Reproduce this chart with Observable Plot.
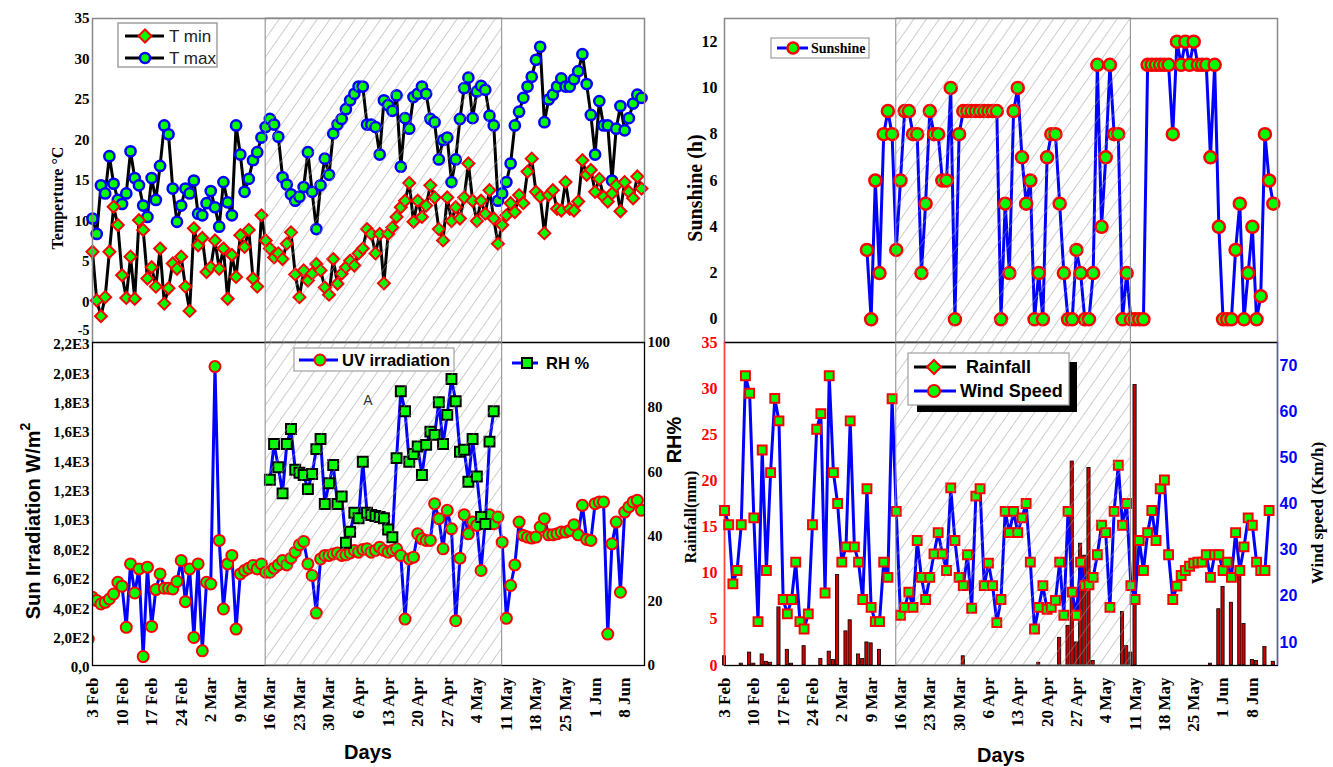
<!DOCTYPE html>
<html><head><meta charset="utf-8">
<script src="https://cdn.jsdelivr.net/npm/d3@7"></script>
<script src="https://cdn.jsdelivr.net/npm/@observablehq/plot@0.6"></script>
<style>
body{margin:0;background:#fff;}
#root{position:relative;width:1333px;height:767px;overflow:hidden;background:#fff;}
#root > svg{position:absolute;overflow:visible;}
</style></head><body><div id="root"></div>
<script>
// ---------- data ----------
const dayTicks = [0,7,14,21,28,35,42,49,56,63,70,77,84,91,98,105,112,119,126];
const dayLabels = ["3 Feb","10 Feb","17 Feb","24 Feb","2 Mar","9 Mar","16 Mar","23 Mar","30 Mar","6 Apr","13 Apr","20 Apr","27 Apr","4 May","11 May","18 May","25 May","1 Jun","8 Jun"];
const hatchPeriod = [[41, 97]]; // 16 Mar - 11 May (days after 3 Feb)

const tMax = [10.3,8.4,14.4,13.4,18,14.6,12.6,12.1,13.4,18.6,
 15.3,14.4,11.9,10.5,15.3,12.6,16.8,21.8,20.7,14,
 9.9,11.9,14,13.4,15,10.9,10.7,12.2,13.7,11.7,
 9.3,14.8,12.3,10.7,21.8,18.2,13.6,15.2,17.5,18.5,
 20.3,21.6,22.6,21.9,20.4,15.4,14.5,13.3,12.5,13,
 14.2,18.5,13.6,9.0,14.4,17.7,15.7,20.8,21.9,22.6,
 23.8,24.9,25.7,26.6,26.6,21.9,21.9,21.6,18.2,24.9,
 24.3,23.6,25.5,16.7,22.7,21.4,25.3,25.7,26.6,25.7,
 22.6,22.2,17.6,20,20.3,14.8,17.6,22.6,26.4,27.7,
 22.7,26,26.7,26.2,23,21.8,12.5,13.4,14.8,17.1,
 21.8,23.5,25.2,26.6,27.8,29.9,31.5,22.2,25,25.6,
 26.6,27.6,26.6,26.6,27.5,28.5,30.6,26.9,23.1,18.2,
 24.8,21.8,21.8,15,21.4,24.2,21.2,22.7,24.5,25.6,
 25.2];
const tMin = [6.2,0.2,-1.75,0.6,6.2,11.75,9.5,3.3,0.5,5.6,
 0.4,10.1,8.9,2.9,4.3,1.9,6.6,-0.2,1.7,4.75,
 4.1,5.6,1.9,-1.1,9.1,7,7.9,3.7,4.3,7.6,
 4.1,6.6,0.4,5.8,3.1,8.25,6.8,8.9,2.9,1.9,
 10.7,7.6,6.6,5.5,6,5.3,7.2,8.6,3.4,0.6,
 3.9,2.65,3.5,4.7,3.9,1.8,0.9,5.3,2.25,3.5,
 4.3,5.1,4.5,6,6.6,9,8.4,6,8.4,2.3,
 8.4,9.2,10.5,11.7,12.5,14.7,9.9,12.5,10.5,11.9,
 14.4,12.9,9,7.6,12.9,10,11.7,10.3,12.9,17.1,
 12.5,10,12.5,10.9,13.8,10.3,7.2,9.5,10.7,12.2,
 11.1,13.2,12.2,16.1,17.7,13.6,13,8.5,13.2,13.8,
 11.5,11.3,14.8,11.5,11.3,12.4,17.5,15.7,16.3,13.6,
 15.2,13,12.4,13.4,14.4,11.2,14.8,13.6,12.8,15.5,
 14];

const sunshineStartDay = 34;
const sunshine = [3,0,6,2,8,9,8,3,6,9, 9,8,8,2,5,9,8,8,6,6, 10,0,8,9,9,9,9,9,9,9,
 9,9,0,5,2,9,10,7,5,6, 0,2,0,7,8,8,5,2,0,0, 3,2,0,0,2,11,4,7,11,8,
 8,0,2,0,0,0,0,11,11,11, 11,11,11,8,12,11,12,11,12,11, 11,11,7,11,4,0,0,0,3,5,
 0,2,4,0,1,8,6,5];

const uvStartDay = -1;
const uv = [180,465,442,419,430,453,487,567,540,260,
 692,494,658,61,670,266,517,624,526,526,
 521,572,715,435,658,191,692,100,567,555,
 2036,852,385,692,750,248,624,647,663,681,
 658,692,635,635,663,685,715,685,731,772,
 822,845,692,613,357,726,750,750,760,767,
 750,754,767,784,772,790,795,772,784,806,
 784,772,784,795,750,316,726,738,897,863,
 852,852,1102,1000,795,1057,931,305,731,1027,
 897,977,954,647,989,1027,965,1011,840,321,
 545,685,977,886,875,868,875,943,1000,890,
 890,897,909,909,920,959,890,1091,859,852,
 1102,1114,1114,214,829,977,499,1045,1080,1114,
 1125,1057];

const rhStartDay = 42;
const rh = [57.5,68.6,61.4,53.3,68.6,73.2,60.6,59.7,59,54.6,
 59.3,67,70.1,50,56.4,62.1,50,52.3,38,41.4,
 47.3,45.6,63.1,47.3,46.6,46.3,46,45.6,42.1,39.7,
 64.2,84.9,78.7,63.1,65.5,67.8,59,68.3,72.4,71.4,
 81.5,68.6,77.6,88.7,81.8,66.2,66.8,56.9,70.1,58.5,
 46,43.8,69.3,78.7];

const wind = [38.6,35.5,22.7,25.6,35.5,67.8,64,37,14.5,51.7,
 25.6,46.8,62.9,58,19.3,16.2,19.3,27.4,14.5,12.9,
 16.2,35.5,56.2,59.6,20.7,67.8,46.8,40.1,27.4,30.7,
 58,30.7,27.4,19.3,43.3,17.6,14.5,14.5,27.4,24.1,
 62.8,38.4,15.9,17.6,20.9,17.6,32.1,24.1,19.3,24.1,
 29.2,33.8,29.2,25.6,43.5,32.1,24.1,22.3,29,17.4,
 41.7,43.3,22.3,27.2,22.3,14.3,19.3,38.4,33.8,
 38.4,33.8,37,40.1,27.4,12.9,17.6,22.3,17.2,17.6,
 19.1,27.4,15.9,38.4,20.9,15.9,27.4,22.3,22.5,24.1,
 29,35.4,33.8,17.6,38.4,48.4,35.4,40.1,22.3,19.3,
 32.1,25.6,33.8,38.6,32.1,43.3,45.2,29,19.3,22.2,
 24.5,25.6,26.5,27.2,27.4,27.4,29,24.1,29,29,
 25.6,27.4,24.1,33.8,25.6,30.7,37,35.4,27.4,25.6,
 25.6,38.6];

const rainfall = [1.0,0,0,0,0.2,0,1.4,0.2,0,1.2,
 0.4,0.3,0,6.3,0,1.7,0.2,0,0,2.1,
 0,0,0,0.7,0,1.5,0.6,9.8,0,3.7,
 4.9,0,1.2,0.7,2.5,2.4,0,1.7,0,0,
 0,0,0,0,0,0,0,0,0,0,
 0,0,0,0,0,0,0,1.0,0,0,
 0,0,0,0,0,0,0,0,0,0,
 0,0,0,0,0,0.3,0,0,0,0,
 3.0,0,4.3,22.1,2.5,13.2,11.9,21.4,0.5,0,
 0,0,0,0,0,5.8,2.1,1.4,30.4,0,
 0,0,0,0,0,0,0,0,0,0,
 0,0,0,0,0,0,0.2,0,6.1,8.5,
 0,6.8,0,10.1,4.5,0,0.6,0.5,0,2.0,
 0,0.4];

const tempTicks = [0,5,10,15,20,25,30,35];
const tempBottomTick = [-5];
const sunTicks = [0,2,4,6,8,10,12];
const uvTicks = [0,200,400,600,800,1000,1200,1400,1600,1800,2000,2200];
const uvTickLabels = ["0,0","2,0E2","4,0E2","6,0E2","8,0E2","1,0E3","1,2E3","1,4E3","1,6E3","1,8E3","2,0E3","2,2E3"];
const rhTicks = [0,20,40,60,80,100];
const rainTicks = [0,5,10,15,20,25,30,35];
const windTicks = [10,20,30,40,50,60,70];

// ---------- helpers ----------
const rows = (values, start) => values.map((v, i) => ({day: start + i, v}));
const tMaxData = rows(tMax, 0), tMinData = rows(tMin, 0);
const sunData = rows(sunshine, sunshineStartDay);
const uvData = rows(uv, uvStartDay);
const rhData = rows(rh, rhStartDay);
const windData = rows(wind, 0);
const rainData = rows(rainfall, 0).filter(d => d.v > 0);

const GREEN = "#00ff00", RED = "#ff0000", BLUE = "#0000ff";
const SERIF = "Liberation Serif", SANS = "Liberation Sans";
const baseStyle = {background: "none", fontFamily: SERIF, color: "black", overflow: "visible"};
const root = document.getElementById("root");

function place(svg, left, top, hatchId) {
  svg.style.left = left + "px";
  svg.style.top = top + "px";
  if (hatchId) {
    const ns = "http://www.w3.org/2000/svg";
    const defs = document.createElementNS(ns, "defs");
    defs.innerHTML = `<pattern id="${hatchId}" patternUnits="userSpaceOnUse" width="10.4" height="10.4" patternTransform="rotate(35)"><line x1="0" y1="-1" x2="0" y2="11.4" stroke="#9c9c9c" stroke-width="1.1" stroke-opacity="0.9"/></pattern>`;
    svg.insertBefore(defs, svg.firstChild);
  }
  root.appendChild(svg);
}
const hatchMark = (id) => Plot.rect(hatchPeriod, {x1: d => d[0], x2: d => d[1], fill: `url(#${id})`, stroke: "#8a8a8a", strokeWidth: 1});
const yAxis = (ticks, opts) => Plot.axisY({ticks, tickSize: 0, label: null, fontWeight: "bold", fontSize: 15, ...opts});
const xAxis = () => Plot.axisX({ticks: dayTicks, tickFormat: d => dayLabels[dayTicks.indexOf(d)], tickRotate: -90, tickSize: 0, tickPadding: 12, fontSize: 17, fontWeight: "bold", label: null});

// ---------- top-left: temperature ----------
place(Plot.plot({
  width: 680, height: 360, marginLeft: 92, marginRight: 36, marginTop: 18, marginBottom: 18,
  x: {domain: [0, 130.7], axis: null}, y: {domain: [-5, 35]}, style: baseStyle,
  marks: [
    yAxis(tempTicks, {tickFormat: d => String(d), tickPadding: 3}),
    Plot.text(tempBottomTick, {x: () => 0, y: d => d, text: d => String(d), dx: -3, dy: -12, textAnchor: "end", fontSize: 14, fontWeight: "bold"}),
    Plot.line(tMaxData, {x: "day", y: "v", stroke: "black", strokeWidth: 3}),
    Plot.line(tMinData, {x: "day", y: "v", stroke: "black", strokeWidth: 3}),
    Plot.dot(tMaxData, {x: "day", y: "v", r: 5.1, fill: GREEN, stroke: BLUE, strokeWidth: 2.5}),
    Plot.dot(tMinData, {x: "day", y: "v", r: 5.4, symbol: "diamond2", fill: GREEN, stroke: RED, strokeWidth: 2}),
    hatchMark("hatch1"),
    Plot.frame({stroke: "#888", strokeWidth: 1.5})
  ]
}), 0, 0, "hatch1");

// ---------- top-right: sunshine ----------
place(Plot.plot({
  width: 673, height: 360, marginLeft: 64, marginRight: 56, marginTop: 18, marginBottom: 18,
  x: {domain: [0, 132], axis: null}, y: {domain: [-1, 13]}, style: baseStyle,
  marks: [
    yAxis(sunTicks, {tickFormat: d => String(d), tickPadding: 7, fontSize: 16}),
    Plot.line(sunData, {x: "day", y: "v", stroke: BLUE, strokeWidth: 3}),
    Plot.dot(sunData, {x: "day", y: "v", r: 6, fill: GREEN, stroke: RED, strokeWidth: 2.5}),
    hatchMark("hatch2"),
    Plot.frame({stroke: "#888", strokeWidth: 1.5})
  ]
}), 660, 0, "hatch2");

// ---------- bottom-left: UV irradiation ----------
place(Plot.plot({
  width: 680, height: 437, marginLeft: 92, marginRight: 36, marginTop: 12, marginBottom: 102,
  x: {domain: [0, 130.7]}, y: {domain: [0, 2200]}, style: baseStyle,
  marks: [
    yAxis(uvTicks, {tickFormat: d => uvTickLabels[uvTicks.indexOf(d)], tickPadding: 3, dy: 2}),
    xAxis(),
    Plot.line(uvData, {x: "day", y: "v", stroke: BLUE, strokeWidth: 3, clip: true}),
    Plot.dot(uvData, {x: "day", y: "v", r: 5.5, fill: GREEN, stroke: RED, strokeWidth: 2, clip: true}),
    Plot.frame({stroke: "black", strokeWidth: 1.3})
  ]
}), 0, 330);

// RH overlay
place(Plot.plot({
  width: 680, height: 437, marginLeft: 92, marginRight: 36, marginTop: 12, marginBottom: 102,
  x: {domain: [0, 130.7], axis: null}, y: {domain: [0, 100]}, style: baseStyle,
  marks: [
    yAxis(rhTicks, {anchor: "right", tickFormat: d => String(d), tickPadding: 3}),
    Plot.line(rhData, {x: "day", y: "v", stroke: BLUE, strokeWidth: 3}),
    Plot.dot(rhData, {x: "day", y: "v", r: 5.6, symbol: "square", fill: GREEN, stroke: "black", strokeWidth: 2}),
    hatchMark("hatch3")
  ]
}), 0, 330, "hatch3");

// ---------- bottom-right: rainfall ----------
place(Plot.plot({
  width: 673, height: 437, marginLeft: 64, marginRight: 56, marginTop: 12, marginBottom: 102,
  x: {domain: [0, 132]}, y: {domain: [0, 35]}, style: baseStyle,
  marks: [
    yAxis(rainTicks, {tickFormat: d => String(d), tickPadding: 7, fontSize: 16, color: RED}),
    xAxis(),
    Plot.rect(rainData, {x1: d => d.day - 0.38, x2: d => d.day + 0.38, y1: d => 0, y2: "v", fill: "#cc0000", stroke: "black", strokeWidth: 0.8}),
    Plot.frame({stroke: "black", strokeWidth: 1.3}),
    Plot.ruleX([0], {stroke: "#ff4040", strokeWidth: 1.3})
  ]
}), 660, 330);

// wind overlay
place(Plot.plot({
  width: 673, height: 437, marginLeft: 64, marginRight: 56, marginTop: 12, marginBottom: 102,
  x: {domain: [0, 132], axis: null}, y: {domain: [5, 75]}, style: baseStyle,
  marks: [
    yAxis(windTicks, {anchor: "right", tickFormat: d => String(d), tickPadding: 2, fontSize: 16, fontFamily: SANS, color: BLUE}),
    Plot.line(windData, {x: "day", y: "v", stroke: BLUE, strokeWidth: 3}),
    Plot.dot(windData, {x: "day", y: "v", r: 5, symbol: "square", fill: GREEN, stroke: RED, strokeWidth: 2}),
    hatchMark("hatch4"),
    Plot.ruleX([132], {stroke: "#5050ff", strokeWidth: 1.3})
  ]
}), 660, 330, "hatch4");

// ---------- titles & legends ----------
const ov = document.createElementNS("http://www.w3.org/2000/svg", "svg");
ov.setAttribute("width", 1333); ov.setAttribute("height", 767);
ov.style.left = "0px"; ov.style.top = "0px";
const diamond = (cx, cy, h) => `M${cx},${cy-h}L${cx+h},${cy}L${cx},${cy+h}L${cx-h},${cy}Z`;
const vt = (x, y, txt, font, size) => `<text transform="translate(${x},${y}) rotate(-90)" text-anchor="middle" dominant-baseline="central" font-family="${font}" font-weight="bold" font-size="${size}">${txt}</text>`;
ov.innerHTML = `
${vt(57, 198, "Temperture °C", SERIF, 16)}
${vt(695, 188, "Sunshine (h)", SERIF, 20)}
<text transform="translate(33,521) rotate(-90)" text-anchor="middle" dominant-baseline="central" font-family="${SANS}" font-weight="bold" font-size="20">Sun Irradiation W/m<tspan dy="-8" font-size="14">2</tspan></text>
${vt(674, 440, "RH%", SANS, 20)}
${vt(690, 517, "Rainfall(mm)", SERIF, 16)}
${vt(1317, 513, "Wind speed (Km/h)", SERIF, 17)}
<text x="368" y="752" text-anchor="middle" dominant-baseline="central" font-family="${SANS}" font-weight="bold" font-size="20">Days</text>
<text x="1001" y="755" text-anchor="middle" dominant-baseline="central" font-family="${SANS}" font-weight="bold" font-size="20">Days</text>
<text x="368" y="405" text-anchor="middle" font-family="${SANS}" font-size="14" fill="#333">A</text>

<rect x="118" y="23" width="99" height="44" fill="#fff" stroke="#a0a0a0" stroke-width="1.5"/>
<line x1="125" x2="164" y1="36" y2="36" stroke="black" stroke-width="3"/>
<path d="${diamond(145,36,6.5)}" fill="${GREEN}" stroke="${RED}" stroke-width="2"/>
<text x="169" y="42" font-family="${SANS}" font-size="17" fill="#222">T min</text>
<line x1="125" x2="164" y1="58" y2="58" stroke="black" stroke-width="3"/>
<circle cx="145" cy="58" r="5" fill="${GREEN}" stroke="${BLUE}" stroke-width="2.5"/>
<text x="169" y="64" font-family="${SANS}" font-size="17" fill="#222">T max</text>

<rect x="771" y="38" width="98" height="20" fill="#fff" stroke="#a0a0a0" stroke-width="1.2"/>
<line x1="777" x2="808" y1="48" y2="48" stroke="${BLUE}" stroke-width="3"/>
<circle cx="793" cy="48" r="5.5" fill="${GREEN}" stroke="${RED}" stroke-width="2.5"/>
<text x="811" y="53" font-family="${SERIF}" font-weight="bold" font-size="14">Sunshine</text>

<rect x="294" y="348" width="160" height="23" fill="#fff" stroke="#a0a0a0" stroke-width="1.2"/>
<line x1="299" x2="338" y1="360" y2="360" stroke="${BLUE}" stroke-width="3"/>
<circle cx="320" cy="360" r="5.5" fill="${GREEN}" stroke="${RED}" stroke-width="2"/>
<text x="342" y="366" font-family="${SANS}" font-weight="bold" font-size="16.5">UV irradiation</text>

<line x1="512" x2="538" y1="363" y2="363" stroke="${BLUE}" stroke-width="3"/>
<rect x="522" y="358" width="10" height="10" fill="${GREEN}" stroke="black" stroke-width="2"/>
<text x="546" y="369" font-family="${SANS}" font-weight="bold" font-size="16.5">RH %</text>

<rect x="917" y="362" width="160" height="50" fill="black"/>
<rect x="908" y="353" width="161" height="52" fill="#fff" stroke="#a0a0a0" stroke-width="1.2"/>
<line x1="914" x2="956" y1="367" y2="367" stroke="black" stroke-width="3"/>
<path d="${diamond(934,367,7)}" fill="${GREEN}" stroke="${RED}" stroke-width="2"/>
<text x="966" y="373" font-family="${SANS}" font-weight="bold" font-size="18">Rainfall</text>
<line x1="914" x2="956" y1="391" y2="391" stroke="${BLUE}" stroke-width="3"/>
<circle cx="934" cy="391" r="6" fill="${GREEN}" stroke="${RED}" stroke-width="2"/>
<text x="960" y="397" font-family="${SANS}" font-weight="bold" font-size="18">Wind Speed</text>
`;
root.appendChild(ov);
</script></body></html>
